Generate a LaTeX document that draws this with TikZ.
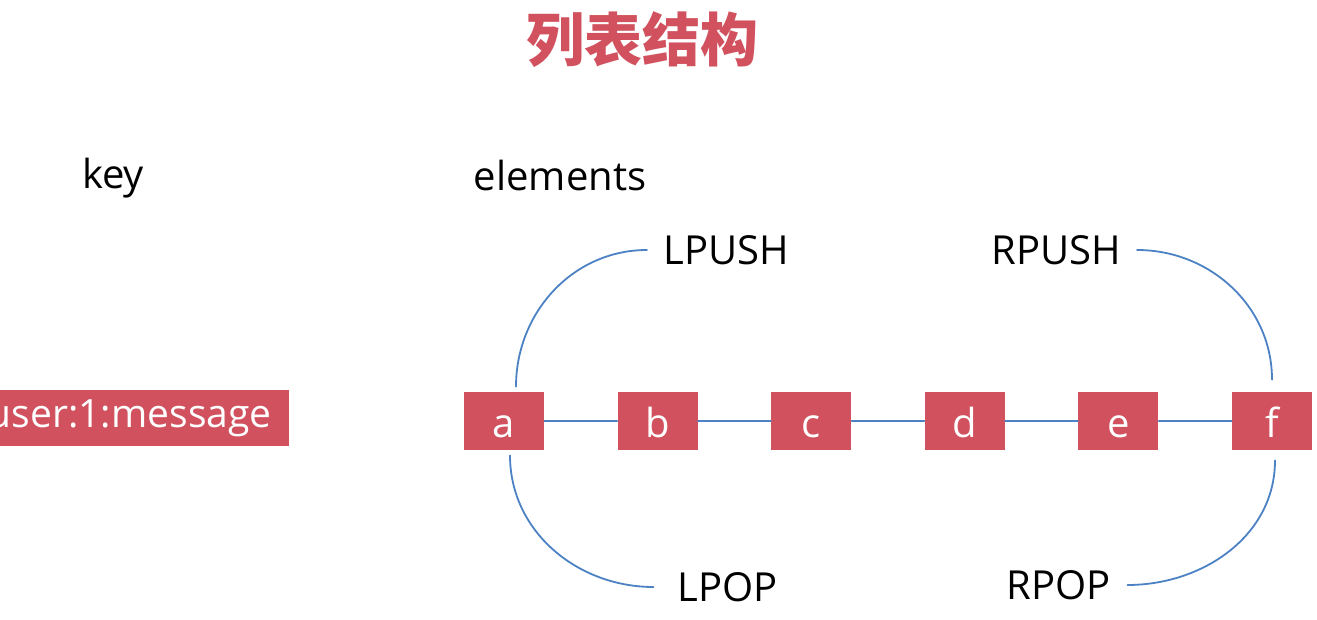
\documentclass[tikz,border=0pt]{standalone}
\usepackage{fontspec}
\setmainfont{Open Sans}
\newfontfamily\cjk{Noto Sans CJK SC}
\usetikzlibrary{positioning}
\definecolor{boxred}{HTML}{D1525E}
\definecolor{linkblue}{HTML}{4C82C3}
\begin{document}
\begin{tikzpicture}[x=0.5pt, y=-0.5pt, line cap=round,
  elem/.style={fill=boxred, text=white, minimum width=40pt, minimum height=29pt,
    inner sep=0pt, text height=18pt, text depth=2pt, font=\fontsize{20}{24}\selectfont},
  op/.style={inner sep=8pt, font=\fontsize{20}{24}\selectfont},
  link/.style={draw=linkblue, line width=0.9pt}]
  % page frame in screen pixels (y grows downwards)
  \useasboundingbox (0,0) rectangle (1317,620);
  \node[font=\cjk\bfseries\fontsize{29}{32}\selectfont, text=boxred] (title) at (642,40) {列表结构};
  \node[op] (keylbl) at (113,178) {key};
  \node[op] (elemlbl) at (560,176) {elements};
  % the key box runs off the left edge of the page
  \node[fill=boxred, text=white, minimum height=28pt, inner xsep=8.5pt, inner ysep=0pt,
    font=\fontsize{19.5}{24}\selectfont, anchor=east] (key) at (289,418) {user:1:message};
  % list cells
  \foreach \n [count=\i from 0] in {a,b,c,d,e,f}
    \node[elem] (\n) at (504+153.6*\i,421) {\n};
  \foreach \p/\q in {a/b,b/c,c/d,d/e,e/f}
    \draw[link] (\p) -- (\q);
  % push / pop operations at both ends
  \node[op] (lpush) at (726,250) {LPUSH};
  \node[op] (rpush) at (1056,250) {RPUSH};
  \node[op] (lpop) at (728,587) {LPOP};
  \node[op] (rpop) at (1059,585) {RPOP};
  \draw[link] ([xshift=6pt,yshift=2.5pt]a.north) to[out=90,in=180] (lpush.west);
  \draw[link] (rpush.east) to[out=0,in=90] ([yshift=6pt]f.north);
  \draw[link] ([xshift=3pt,yshift=-2.5pt]a.south) to[out=-90,in=180] ([xshift=-4pt]lpop.west);
  \draw[link] (rpop.east) to[out=0,in=-90] ([xshift=1.5pt,yshift=-5pt]f.south);
\end{tikzpicture}
\end{document}
